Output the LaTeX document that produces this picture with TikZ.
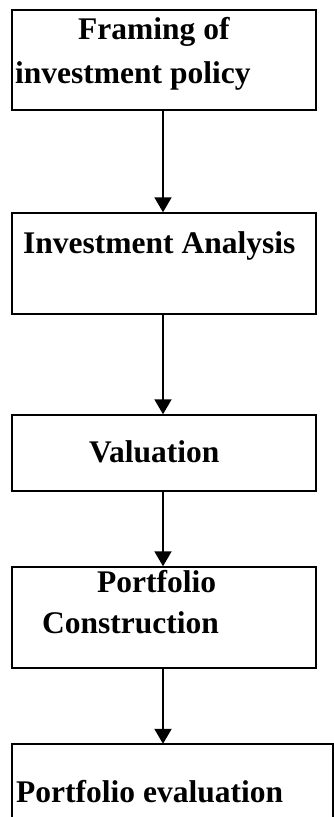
\documentclass[tikz,border=0pt]{standalone}
\usepackage{fontspec}
\setmainfont{Liberation Serif}
\usetikzlibrary{arrows.meta}
\tikzset{
  box/.style={draw, line width=1.5pt, rectangle, inner sep=0pt},
  lbl/.style={anchor=base west, inner sep=0pt, font=\bfseries\fontsize{31.5}{43}\selectfont},
  flow/.style={line width=2pt, -{Triangle[width=17pt,length=15pt]}, shorten >=0pt}
}
\begin{document}
\begin{tikzpicture}[x=1pt,y=-1pt]
\useasboundingbox (0,0) rectangle (334,817);
% boxes
\node[box, minimum width=304pt, minimum height=100pt] (b1) at (164,60) {};
\node[box, minimum width=304pt, minimum height=101pt] (b2) at (164,263.5) {};
\node[box, minimum width=304pt, minimum height=76pt] (b3) at (164,453) {};
\node[box, minimum width=304pt, minimum height=101pt] (b4) at (164,617.5) {};
\node[inner sep=0pt, minimum width=321pt, minimum height=146pt] (b5) at (172.5,817) {};
\draw[line width=1.5pt] (b5.south west) -- (b5.north west) -- (b5.north east) -- (b5.south east);
% texts
\node[lbl] (t1a) at (78,39) {Framing of};
\node[lbl] (t1b) at (15,83) {investment policy};
\node[lbl] (t2) at (23,253) {Investment Analysis};
\node[lbl] (t3) at (89,462) {Valuation};
\node[lbl] (t4a) at (97,592) {Portfolio};
\node[lbl] (t4b) at (42,633) {Construction};
\node[lbl] (t5) at (16,802) {Portfolio evaluation};
% arrows
\draw[flow] (b1.south -| 163,0) -- (b2.north -| 163,0);
\draw[flow] (b2.south -| 163,0) -- (b3.north -| 163,0);
\draw[flow] (b3.south -| 163,0) -- (b4.north -| 163,0);
\draw[flow] (b4.south -| 163,0) -- (b5.north -| 163,0);
\end{tikzpicture}
\end{document}
